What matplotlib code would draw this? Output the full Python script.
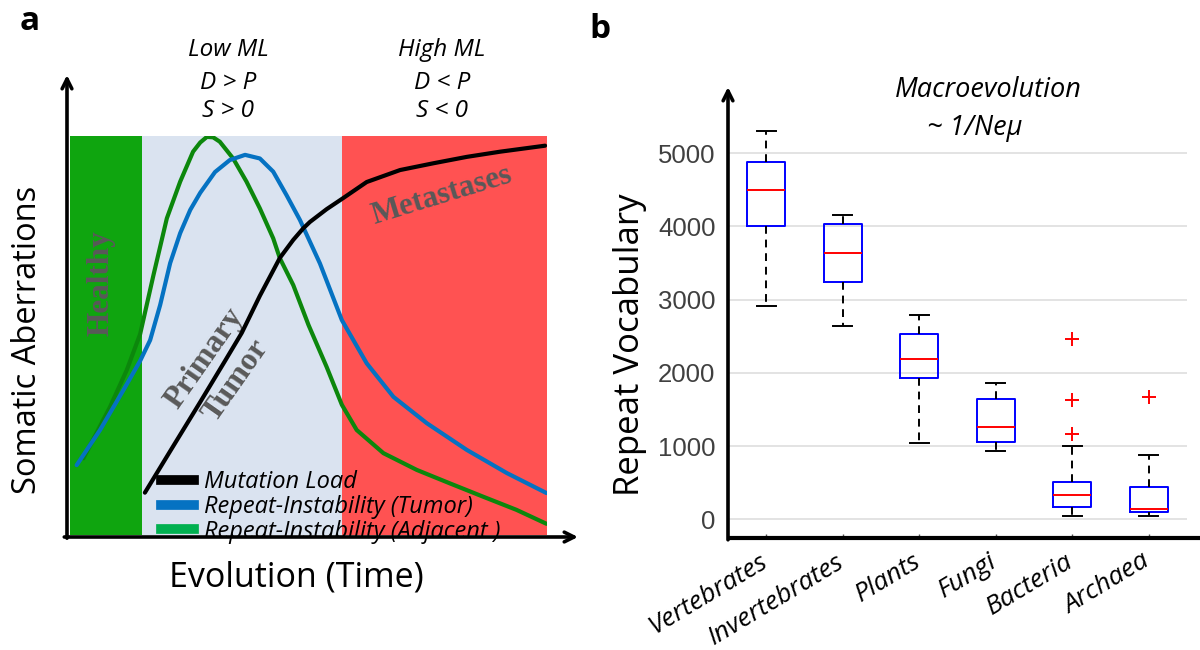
import matplotlib
matplotlib.use('Agg')
import matplotlib.pyplot as plt
import matplotlib.transforms as mtransforms
from matplotlib.lines import Line2D

# ---------------- Panel a (schematic) data ----------------
stage_names = ['Healthy', 'Primary\nTumor', 'Metastases']
stage_edges = [0, 15.0, 57.0, 100]
stage_colors = ['#0FA50F', '#DAE3F0', '#FF5252']

ml_x = [15.7, 21.0, 27.3, 32.5, 36.0, 39.8, 44.0, 46.8, 48.9, 50.3, 53.8, 57.3,
        62.2, 69.2, 76.2, 83.2, 90.2, 99.6]
ml_y = [10.6, 21.0, 33.3, 43.6, 50.6, 59.9, 69.4, 73.9, 76.8, 78.4, 81.6, 84.4,
        88.4, 91.4, 93.1, 94.7, 96.0, 97.5]

tumor_x = [1.4, 6.3, 11.2, 14.7, 16.8, 18.9, 21.0, 23.1, 25.2, 27.3, 30.4, 33.5,
           36.7, 39.8, 42.6, 45.4, 48.2, 52.4, 57.0, 62.2, 67.8, 74.8, 83.2, 91.6, 99.9]
tumor_y = [17.5, 26.3, 36.3, 43.6, 48.8, 57.6, 68.1, 75.6, 81.4, 85.7, 90.9, 93.9,
           95.2, 94.3, 91.0, 85.1, 78.9, 68.0, 53.8, 43.0, 34.6, 28.0, 21.3, 15.5, 10.5]

adj_x = [2.8, 8.4, 11.9, 14.7, 17.5, 20.3, 23.1, 25.8, 27.3, 28.7, 30.0, 31.4, 34.2,
         37.0, 39.8, 42.6, 44.0, 46.8, 50.0, 53.8, 57.0, 60.1, 65.7, 72.7, 79.7,
         86.6, 93.6, 99.9]
adj_y = [19.2, 32.1, 41.3, 50.3, 65.1, 79.3, 88.5, 96.0, 98.3, 99.7, 99.6, 98.5, 94.3,
         88.5, 81.8, 74.3, 69.3, 62.6, 52.6, 42.1, 32.6, 26.3, 20.5, 16.3, 12.9,
         9.6, 6.3, 2.8]

series_labels = ['Mutation Load', 'Repeat-Instability (Tumor)', 'Repeat-Instability (Adjacent )']

# ---------------- Panel b (box plot) data ----------------
groups = ['Vertebrates', 'Invertebrates', 'Plants', 'Fungi', 'Bacteria', 'Archaea']
whislo = [2914, 2641, 1038, 937, 49, 49]
q1 = [4007, 3238, 1926, 1060, 172, 104]
med = [4499, 3634, 2186, 1265, 332, 145]
q3 = [4885, 4030, 2531, 1639, 514, 445]
whishi = [5309, 4157, 2791, 1866, 1005, 878]
fliers = [[], [], [], [], [2459, 1630, 1165], [1667]]
yticks = [0, 1000, 2000, 3000, 4000, 5000]

CAL = ['Open Sans', 'DejaVu Sans']
SERIF = ['Liberation Serif', 'DejaVu Serif']
ARIAL = ['Liberation Sans', 'DejaVu Sans']

W, H = 1200, 650
fig = plt.figure(figsize=(12, 6.5), dpi=100)


def fx(px):
    return px / W


def fy(py):
    return 1 - py / H


# ======================= Panel a =======================
ax = fig.add_axes([fx(70), fy(535), 477 / W, 399.3 / H])
ax.set_xlim(0, 100)
ax.set_ylim(0, 100)
ax.axis('off')

for i in range(3):
    ax.axvspan(stage_edges[i], stage_edges[i + 1], color=stage_colors[i], lw=0, zorder=0)

ax.plot(adj_x, adj_y, color='#0C870C', lw=3, solid_joinstyle='round', solid_capstyle='round', zorder=3)
ax.plot(tumor_x, tumor_y, color='#0572C2', lw=3, solid_joinstyle='round', solid_capstyle='round', zorder=3)
ax.plot(ml_x, ml_y, color='black', lw=3, solid_joinstyle='round', solid_capstyle='round', zorder=4)

# stage labels
ax.text(6.6, 63, stage_names[0], rotation=90, ha='center', va='center',
        fontsize=22.5, fontweight='bold', color='#595959', family=SERIF, zorder=2)
ax.text(31.5, 41.5, stage_names[1], rotation=55, ha='center', va='center', multialignment='center',
        fontsize=23, fontweight='bold', color='#595959', family=SERIF, zorder=2, linespacing=1.45)
ax.text(77.9, 85.1, stage_names[2], rotation=17, ha='center', va='center',
        fontsize=22.5, fontweight='bold', color='#595959', family=SERIF, zorder=2)

# axis arrows
ax.annotate('', xy=(-0.0063, 1.152), xytext=(-0.0063, -0.008), xycoords='axes fraction',
            arrowprops=dict(arrowstyle='->,head_width=0.35,head_length=0.7', lw=2.6, color='black',
                            shrinkA=0, shrinkB=0), annotation_clip=False)
ax.annotate('', xy=(1.065, -0.005), xytext=(-0.012, -0.005), xycoords='axes fraction',
            arrowprops=dict(arrowstyle='->,head_width=0.35,head_length=0.7', lw=2.6, color='black',
                            shrinkA=0, shrinkB=0), annotation_clip=False)

handles = [Line2D([], [], color='black', lw=7),
           Line2D([], [], color='#0572C2', lw=7),
           Line2D([], [], color='#00B050', lw=7)]
leg = ax.legend(handles, series_labels, loc='lower left', bbox_to_anchor=(0.17, -0.045),
                frameon=False, handlelength=1.4, handletextpad=0.45, labelspacing=0.03,
                borderaxespad=0, prop=dict(family=CAL, style='italic', size=17))
leg.set_zorder(5)

# texts around panel a
fig.text(fx(30), fy(22), 'a', fontsize=24, fontweight='bold', family=CAL, ha='center', va='center')
for txt, py in zip(['Low ML', 'D > P', 'S > 0'], [50, 83, 111]):
    fig.text(fx(228), fy(py), txt, fontsize=17.5, style='italic', family=CAL, ha='center', va='center')
for txt, py in zip(['High ML', 'D < P', 'S < 0'], [50, 83, 111]):
    fig.text(fx(442), fy(py), txt, fontsize=17.5, style='italic', family=CAL, ha='center', va='center')
fig.text(fx(28), fy(340), 'Somatic Aberrations', rotation=90, fontsize=23.5, family=CAL,
         ha='center', va='center')
fig.text(fx(296), fy(578), 'Evolution (Time)', fontsize=24.5, family=CAL, ha='center', va='center')

# ======================= Panel b =======================
bx = fig.add_axes([fx(728), fy(538), 459 / W, 451 / H])
bx.set_xlim(0.5, 6.5)
bx.set_ylim(-255, 5905)
for s in bx.spines.values():
    s.set_visible(False)

bx.hlines(yticks, 0.5, 6.5, color='#E0E0E0', lw=1.3, zorder=0)

stats = []
for i, g in enumerate(groups):
    stats.append(dict(whislo=whislo[i], q1=q1[i], med=med[i], q3=q3[i], whishi=whishi[i],
                      fliers=fliers[i], label=g))
positions = list(range(1, len(groups) + 1))
bx.bxp(stats, positions=positions, widths=0.5, showfliers=True,
       boxprops=dict(color='#0000FF', lw=1.4),
       medianprops=dict(color='#FF0000', lw=1.4),
       whiskerprops=dict(color='black', lw=1.4, linestyle=(0, (4, 3))),
       capprops=dict(color='black', lw=1.4),
       flierprops=dict(marker='+', markeredgecolor='#FF0000', markersize=10, markeredgewidth=1.4))

bx.set_yticks(yticks)
bx.set_yticklabels([str(v) for v in yticks], family=ARIAL, fontsize=18.5, color='#404040')
bx.tick_params(axis='y', length=0, pad=9)
bx.set_xticks(positions)
bx.set_xticklabels(groups, family=CAL, style='italic', fontsize=19, rotation=31,
                   ha='right', va='top', rotation_mode='anchor')
bx.tick_params(axis='x', direction='in', length=3, width=1, color='#555555', pad=8)
shift = mtransforms.ScaledTranslation(-7 / 100, 0, fig.dpi_scale_trans)
for lab in bx.get_xticklabels():
    lab.set_transform(lab.get_transform() + shift)

bx.annotate('', xy=(0, 1.0), xytext=(0, -0.004), xycoords='axes fraction',
            arrowprops=dict(arrowstyle='->,head_width=0.35,head_length=0.7', lw=2.6, color='black',
                            shrinkA=0, shrinkB=0), annotation_clip=False)
bx.plot([0, 1.03], [0, 0], transform=bx.transAxes, color='black', lw=3, clip_on=False,
        solid_capstyle='butt')

fig.text(fx(600), fy(30), 'b', fontsize=24, fontweight='bold', family=CAL, ha='center', va='center')
fig.text(fx(988), fy(90), 'Macroevolution', fontsize=19.5, style='italic', family=CAL,
         ha='center', va='center')
fig.text(fx(975), fy(128), '~ 1/Neμ', fontsize=19.5, style='italic', family=CAL,
         ha='center', va='center')
fig.text(fx(630), fy(345), 'Repeat Vocabulary', rotation=90, fontsize=25, family=CAL,
         ha='center', va='center')

fig.savefig('out.png', dpi=100)
